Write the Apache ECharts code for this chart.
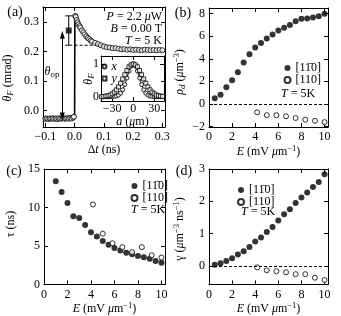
<!DOCTYPE html>
<html><head><meta charset="utf-8">
<script src="https://cdn.jsdelivr.net/npm/echarts@6/dist/echarts.min.js"></script>
<style>html,body{margin:0;padding:0;background:#fff}#c{width:341px;height:316px}</style>
</head><body><div id="c"></div>
<script>
const FONT = 'Liberation Serif';
// ---------- panel (a) ----------
const tPre = [-0.100,-0.095,-0.090,-0.085,-0.080,-0.075,-0.070,-0.065,-0.060,-0.055,-0.050,-0.045,-0.040,-0.035,-0.030,-0.025,-0.020,-0.015,-0.010,-0.005,-0.002];
const thetaPre = [-0.028,-0.027,-0.029,-0.027,-0.028,-0.026,-0.028,-0.027,-0.029,-0.026,-0.028,-0.027,-0.026,-0.028,-0.027,-0.026,-0.028,-0.025,-0.027,-0.024,-0.021];
const tPost = [0.002,0.004,0.007,0.010,0.013,0.017,0.020,0.025,0.030,0.035,0.040,0.045,0.050,0.055,0.060,0.070,0.080,0.090,0.100,0.110,0.120,0.130,0.140,0.150,0.160,0.170,0.180,0.190,0.200,0.210,0.220,0.230,0.240,0.250,0.260,0.270,0.280,0.290,0.300];
const thetaPost = [0.322,0.318,0.308,0.300,0.293,0.287,0.282,0.273,0.266,0.259,0.252,0.247,0.243,0.238,0.235,0.230,0.226,0.222,0.218,0.215,0.214,0.212,0.212,0.210,0.208,0.209,0.207,0.208,0.206,0.207,0.206,0.205,0.207,0.206,0.205,0.206,0.205,0.206,0.205];
const fitT = [-0.100,0.000,0.001,0.005,0.010,0.020,0.030,0.040,0.050,0.060,0.070,0.080,0.090,0.100,0.120,0.150,0.200,0.250,0.300];
const fitTheta = [-0.027,-0.027,0.326,0.316,0.304,0.284,0.267,0.254,0.244,0.236,0.229,0.224,0.220,0.217,0.213,0.209,0.207,0.206,0.206];
const levelT = [0.0, 0.12];
const levelTheta = [0.222, 0.222];
const errT = -0.02, errMid = 0.272, errLo = 0.222, errHi = 0.322;
const arrowT = -0.042, arrowLo = -0.020, arrowHi = 0.258;
const ticksA_x = [-0.1, 0.0, 0.1, 0.2, 0.3];
const ticksA_y = [0.0, 0.1, 0.2, 0.3];
// ---------- inset ----------
const aPos = [-45,-42,-39,-36,-33,-30,-27,-24,-21,-18,-15,-12,-9,-6,-3,0,3,6,9,12,15,18,21,24,27,30,33,36,39,42,45];
const insX = [0.00,0.00,0.00,0.00,0.00,0.00,0.01,0.02,0.05,0.11,0.21,0.37,0.57,0.78,0.94,1.00,0.94,0.78,0.57,0.37,0.21,0.11,0.05,0.02,0.01,0.00,0.00,0.00,0.00,0.00,0.00];
const insY = [0.00,0.01,0.02,0.03,0.05,0.09,0.14,0.21,0.30,0.41,0.54,0.67,0.80,0.91,0.97,1.00,0.97,0.91,0.80,0.67,0.54,0.41,0.30,0.21,0.14,0.09,0.05,0.03,0.02,0.01,0.00];
const ticksIn_x = [-30, 0, 30];
const ticksIn_y = [0, 1];
// ---------- panels (b)-(d) ----------
const E_half = [0.5,1.0,1.5,2.0,2.5,3.0,3.5,4.0,4.5,5.0,5.5,6.0,6.5,7.0,7.5,8.0,8.5,9.0,9.5,10.0];
const E_c = [1.0,1.5,2.0,2.5,3.0,3.5,4.0,4.5,5.0,5.5,6.0,6.5,7.0,7.5,8.0,8.5,9.0,9.5,10.0];
const E_open = [4.17,5.0,5.83,6.67,7.5,8.33,9.17,10.0];
const rhoBar = [0.50,0.82,1.47,2.10,2.80,3.67,4.40,5.00,5.40,5.80,6.16,6.50,6.75,7.00,7.33,7.54,7.57,7.65,7.77,8.00];
const rhoOpen = [-0.75,-1.00,-1.00,-1.10,-1.25,-1.40,-1.50,-1.62];
const tauBar = [13.4,12.0,10.6,8.86,8.65,7.72,6.80,6.24,5.65,5.15,4.73,4.43,4.13,3.92,3.70,3.54,3.33,3.04,2.83];
const tauOpen = [10.4,6.6,5.36,4.85,4.2,4.85,3.8,3.5];
const gammaBar = [0.03,0.08,0.15,0.23,0.35,0.45,0.58,0.75,0.88,1.05,1.20,1.40,1.60,1.75,1.95,2.12,2.27,2.44,2.60,2.84];
const gammaOpen = [-0.05,-0.14,-0.17,-0.20,-0.26,-0.26,-0.37,-0.44];
const ticksE = [0, 2, 4, 6, 8, 10];
const ticksRho = [-2, 0, 2, 4, 6, 8];
const ticksTau = [0, 5, 10, 15];
const ticksGamma = [0, 1, 2, 3];
const LBL_BAR = '[11\u03040]';
const LBL_110 = '[110]';

const zip = (a, b) => a.map((v, i) => [v, b[i]]);
const minus = s => String(s).replace('-', '\u2212');
const fmt1 = v => minus((Math.abs(v) < 1e-9 ? 0 : v).toFixed(1));
const fmt0 = v => minus(Math.round(v));

const FS = 12;
const RICH = {
  i: {fontStyle: 'italic', fontFamily: FONT, fontSize: FS, color: '#000'},
  sub: {fontFamily: FONT, fontSize: 9, padding: [5, 0, 0, 0], color: '#000'},
  isub: {fontStyle: 'italic', fontFamily: FONT, fontSize: 9, padding: [5, 0, 0, 0], color: '#000'},
  sup: {fontFamily: FONT, fontSize: 8.5, padding: [0, 0, 6, 0], color: '#000'}
};

const grids = [
  {left: 43, top: 7, width: 122, height: 120},
  {left: 209, top: 8, width: 119, height: 119},
  {left: 44, top: 169, width: 121, height: 119},
  {left: 209, top: 169, width: 119, height: 119},
  {left: 101, top: 56, width: 63, height: 45, show: true, backgroundColor: '#fff', borderWidth: 0}
];

function axis(g, pos, min, max, ticks, fmt, extra, margin) {
  const mirror = pos === 'top' || pos === 'right';
  const a = {
    type: 'value', gridIndex: g, position: pos, min, max,
    axisLine: {show: true, onZero: false, lineStyle: {color: '#000', width: 1}},
    axisTick: {show: true, inside: true, length: 4, customValues: ticks, lineStyle: {color: '#000', width: 1}},
    splitLine: {show: false},
    axisLabel: {show: !mirror, customValues: ticks, color: '#000', fontFamily: FONT, fontSize: FS, margin: margin == null ? 4 : margin, formatter: fmt},
    nameTextStyle: {fontFamily: FONT, fontSize: FS, color: '#000', rich: RICH}
  };
  if (!mirror && extra) Object.assign(a, extra);
  return a;
}

const xAxes = [], yAxes = [];
function addAxes(g, xr, yr, xName, margin) {
  xAxes.push(axis(g, 'bottom', xr[0], xr[1], xr[2], xr[3], xName, margin));
  xAxes.push(axis(g, 'top', xr[0], xr[1], xr[2], xr[3]));
  yAxes.push(axis(g, 'left', yr[0], yr[1], yr[2], yr[3], null, margin));
  yAxes.push(axis(g, 'right', yr[0], yr[1], yr[2], yr[3]));
}
const xNameE = {name: '{i|E} (mV {i|\u03bc}m{sup|\u22121})', nameLocation: 'middle', nameGap: 17};
addAxes(0, [-0.108, 0.309, ticksA_x, fmt1], [-0.056, 0.352, ticksA_y, fmt1],
        {name: '\u0394{i|t} (ns)', nameLocation: 'middle', nameGap: 17});
addAxes(1, [0, 10.3, ticksE, fmt0], [-2.05, 8.5, ticksRho, fmt0], xNameE);
addAxes(2, [0, 10.3, ticksE, fmt0], [0, 15, ticksTau, fmt0], xNameE);
addAxes(3, [0, 10.3, ticksE, fmt0], [-0.58, 3, ticksGamma, fmt0], xNameE);
addAxes(4, [-46, 44, ticksIn_x, fmt0], [-0.13, 1.24, ticksIn_y, fmt0],
        {name: '{i|a} ({i|\u03bc}m)', nameLocation: 'middle', nameGap: 13}, 2);

const openStyle = {color: '#fff', borderColor: '#000', borderWidth: 1};
const fillStyle = {color: '#000'};
const S = [];
function on(g) { return {xAxisIndex: g * 2, yAxisIndex: g * 2}; }
// panel (a)
S.push(Object.assign({type: 'line', name: 'fit', data: zip(fitT, fitTheta), symbol: 'none', lineStyle: {color: '#000', width: 1.6}, z: 3}, on(0)));
S.push(Object.assign({type: 'line', name: 'level', data: zip(levelT, levelTheta), symbol: 'none', lineStyle: {color: '#000', width: 1, type: [3, 2]}, z: 3}, on(0)));
S.push(Object.assign({type: 'scatter', name: 'pre', data: zip(tPre, thetaPre), symbol: 'circle', symbolSize: 5, itemStyle: openStyle, z: 4}, on(0)));
S.push(Object.assign({type: 'scatter', name: 'post', data: zip(tPost, thetaPost), symbol: 'circle', symbolSize: 5, itemStyle: openStyle, z: 4}, on(0)));
S.push(Object.assign({type: 'line', name: 'errbar', data: [[errT, errLo], [errT, errHi]], symbol: 'none', lineStyle: {color: '#000', width: 1}}, on(0)));
S.push(Object.assign({type: 'scatter', name: 'caps', data: [[errT, errLo], [errT, errHi]], symbol: 'rect', symbolSize: [7, 1.2], itemStyle: fillStyle}, on(0)));
S.push(Object.assign({type: 'scatter', name: 'square', data: [[errT, errMid]], symbol: 'rect', symbolSize: 6, itemStyle: fillStyle}, on(0)));
S.push(Object.assign({type: 'line', name: 'arrow', data: [[arrowT, arrowLo]], symbol: 'none', lineStyle: {width: 0},
  markLine: {silent: true, symbol: ['triangle', 'triangle'], symbolSize: [5, 8], label: {show: false},
    lineStyle: {color: '#000', width: 1, type: 'solid'},
    data: [[{coord: [arrowT, arrowLo]}, {coord: [arrowT, arrowHi]}]]}}, on(0)));
// inset
S.push(Object.assign({type: 'line', name: 'fx', data: zip(aPos, insX), smooth: true, symbol: 'none', lineStyle: {color: '#000', width: 1}, z: 5}, on(4)));
S.push(Object.assign({type: 'line', name: 'fy', data: zip(aPos, insY), smooth: true, symbol: 'none', lineStyle: {color: '#000', width: 1}, z: 5}, on(4)));
S.push(Object.assign({type: 'scatter', name: 'x', data: zip(aPos, insX), symbol: 'circle', symbolSize: 4, itemStyle: openStyle, z: 6}, on(4)));
S.push(Object.assign({type: 'scatter', name: 'y', data: zip(aPos, insY), symbol: 'rect', symbolSize: 4, itemStyle: openStyle, z: 6}, on(4)));
// (b)-(d)
const zeroLine = {silent: true, symbol: 'none', label: {show: false}, lineStyle: {color: '#000', width: 1, type: [3, 2]}, data: [{yAxis: 0}]};
[[1, E_half, rhoBar, E_open, rhoOpen, true], [2, E_c, tauBar, E_open, tauOpen, false], [3, E_half, gammaBar, E_open, gammaOpen, true]]
  .forEach(([g, xf, yf, xo, yo, zl]) => {
    const f = Object.assign({type: 'scatter', name: LBL_BAR, data: zip(xf, yf), symbol: 'circle', symbolSize: 6, itemStyle: fillStyle}, on(g));
    if (zl) f.markLine = zeroLine;
    S.push(f);
    S.push(Object.assign({type: 'scatter', name: LBL_110, data: zip(xo, yo), symbol: 'circle', symbolSize: 5, itemStyle: openStyle}, on(g)));
  });

function leg(left, top) {
  return {left, top, orient: 'vertical', padding: 0, itemGap: 0, itemWidth: 6, itemHeight: 6, selectedMode: false,
    data: [{name: LBL_BAR, icon: 'circle'}, {name: LBL_110, icon: 'circle'}],
    textStyle: {fontFamily: FONT, fontSize: FS, color: '#000', lineHeight: 12}};
}
const legends = [leg(283.5, 62), leg(130.5, 180), leg(237, 184),
  {left: 101.5, top: 60.5, orient: 'vertical', padding: 0, itemGap: 0, itemWidth: 4, itemHeight: 4, selectedMode: false,
   data: [{name: 'x', icon: 'circle'}, {name: 'y', icon: 'rect'}],
   textStyle: {fontFamily: FONT, fontSize: FS, fontStyle: 'italic', color: '#000', lineHeight: 9}}];

function txt(x, y, text, o) {
  o = o || {};
  return {type: 'text', x, y, rotation: o.rot || 0, z: 100,
    style: {text, fontFamily: FONT, fontSize: o.size || FS, fill: '#000', align: o.align || 'center', verticalAlign: 'middle', rich: RICH}};
}
const R = Math.PI / 2;
const graphics = [
  txt(15, 12, '(a)', {size: 14}), txt(183, 13, '(b)', {size: 14}), txt(14, 171, '(c)', {size: 14}), txt(184, 171, '(d)', {size: 14}),
  txt(162, 17, '{i|P} = 2.2 {i|\u03bc}W', {align: 'right'}),
  txt(162, 28.5, '{i|B} = 0.00 T', {align: 'right'}),
  txt(162, 40.5, '{i|T} = 5 K', {align: 'right'}),
  txt(52, 72, '{i|\u03b8}{sub|op}'),
  txt(281, 94, '{i|T} = 5K', {align: 'left'}),
  txt(131, 210, '{i|T} = 5K', {align: 'left'}),
  txt(241, 212, '{i|T} = 5K', {align: 'left'}),
  txt(8, 78, '{i|\u03b8}{isub|F} (mrad)', {rot: R}),
  txt(180, 72, '{i|\u03c1}{isub|d} ({i|\u03bc}m{sup|\u22123})', {rot: R}),
  txt(11, 224, '\u03c4 (ns)', {rot: R}),
  txt(180, 229, '\u03b3 ({i|\u03bc}m{sup|\u22123} ns{sup|\u22121})', {rot: R}),
  txt(89, 79, '{i|\u03b8}{isub|F}', {rot: R})
];

const chart = echarts.init(document.getElementById('c'), null, {renderer: 'canvas'});
chart.setOption({
  animation: false, backgroundColor: '#fff',
  grid: grids, xAxis: xAxes, yAxis: yAxes, series: S, legend: legends, graphic: graphics
});
</script></body></html>
